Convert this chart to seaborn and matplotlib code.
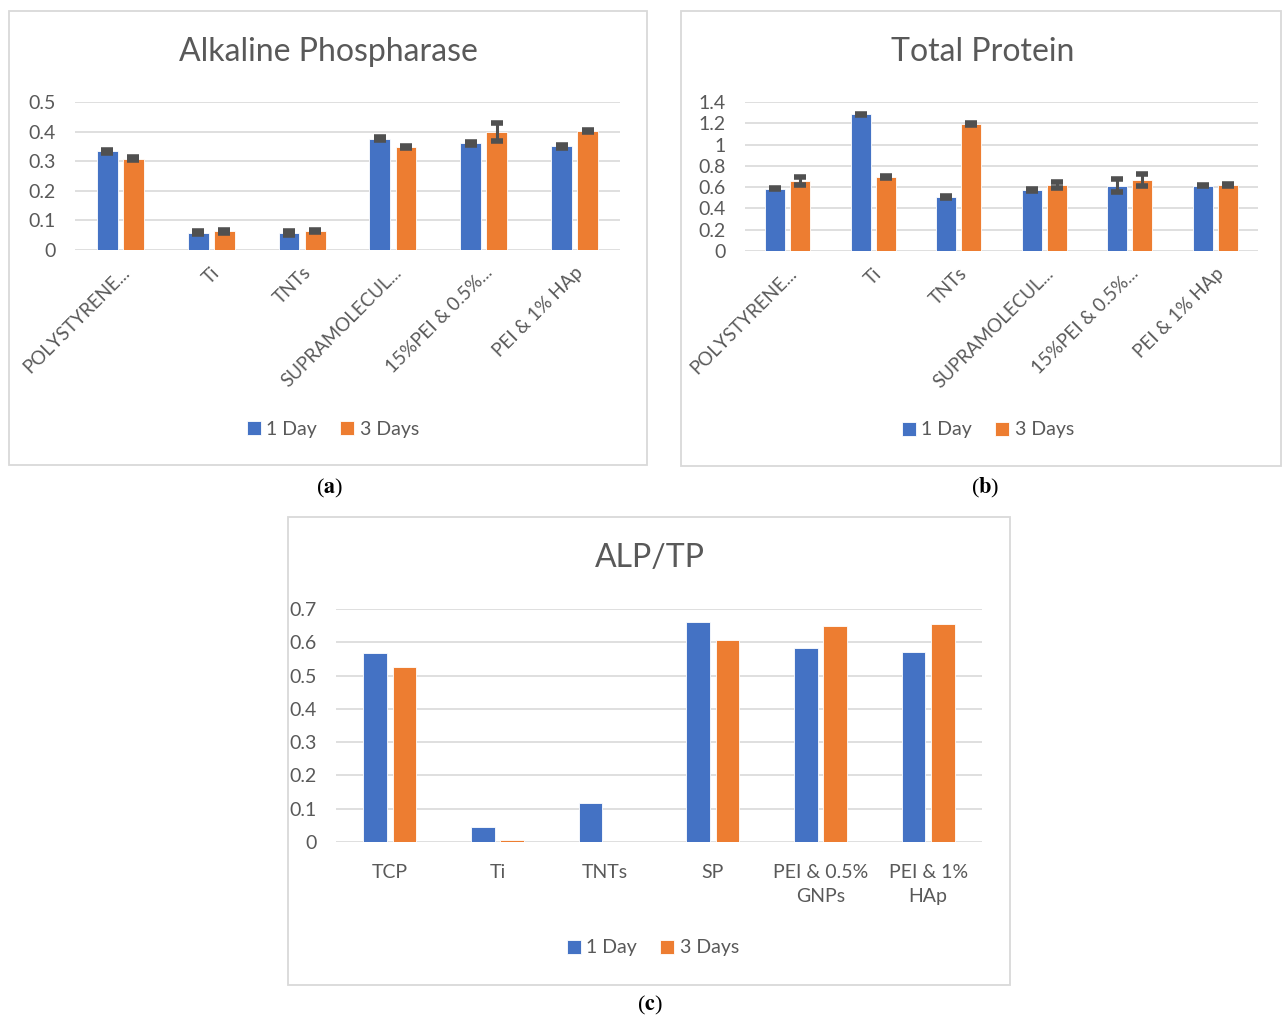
import numpy as np
import pandas as pd
import matplotlib
matplotlib.use('Agg')
import matplotlib.pyplot as plt
import seaborn as sns
from matplotlib.patches import Rectangle
from matplotlib.ticker import FuncFormatter

# ===== Data =====
groups_ab = ['POLYSTYRENE...', 'Ti', 'TNTs', 'SUPRAMOLECUL...',
             '15%PEI & 0.5%...', 'PEI & 1% HAp']
groups_c = ['TCP', 'Ti', 'TNTs', 'SP', 'PEI & 0.5%\nGNPs', 'PEI & 1%\nHAp']
series = ['1 Day', '3 Days']

alp_day1 = [0.333, 0.059, 0.057, 0.376, 0.360, 0.351]
alp_day3 = [0.309, 0.064, 0.065, 0.348, 0.399, 0.402]
alp_err1 = [0.005, 0.006, 0.006, 0.006, 0.005, 0.005]
alp_err3 = [0.006, 0.005, 0.003, 0.003, 0.030, 0.003]

tp_day1 = [0.587, 1.283, 0.505, 0.571, 0.615, 0.615]
tp_day3 = [0.656, 0.697, 1.192, 0.624, 0.669, 0.621]
tp_err1 = [0.008, 0.008, 0.010, 0.008, 0.062, 0.008]
tp_err3 = [0.035, 0.008, 0.008, 0.028, 0.055, 0.010]

ratio_day1 = [0.567, 0.045, 0.116, 0.660, 0.584, 0.572]
ratio_day3 = [0.527, 0.007, 0.0, 0.608, 0.648, 0.655]

BLUE = '#4472C4'
ORANGE = '#ED7D31'
TEXT = '#595959'
GRID = '#d9d9d9'

W, H = 1282, 1019

sns.set_style('white')
plt.rcParams['font.family'] = ['Lato', 'DejaVu Sans']
plt.rcParams['mathtext.fontset'] = 'stix'

fig = plt.figure(figsize=(W / 100, H / 100), dpi=100)


def fx(x):
    return x / W


def fy(y):
    return 1 - y / H


def make_df(groups, d1, d3):
    return pd.DataFrame({
        'group': list(groups) * 2,
        'series': [series[0]] * len(groups) + [series[1]] * len(groups),
        'value': list(d1) + list(d3),
    })


def draw_panel(box, axrect, title, title_xy, groups, d1, d3, ymax, ystep,
               width, legend_xy, letter, caption_xy, rotate, errs=None):
    # outer panel frame
    x0, y0, x1, y1 = box
    fig.patches.append(Rectangle((fx(x0), fy(y1)), fx(x1 - x0), (y1 - y0) / H,
                                 transform=fig.transFigure, fill=False,
                                 edgecolor=GRID, linewidth=1.3))
    l, t, r, b = axrect
    ax = fig.add_axes([fx(l), fy(b), fx(r - l), (b - t) / H])
    df = make_df(groups, d1, d3)
    sns.barplot(data=df, x='group', y='value', hue='series', order=groups,
                hue_order=series, palette=[BLUE, ORANGE], width=width,
                gap=0.2, edgecolor='white', linewidth=0.6, saturation=1,
                ax=ax, legend=True)
    if errs is not None:
        for cont, err in zip(ax.containers, errs):
            xs = [p.get_x() + p.get_width() / 2 for p in cont]
            hs = [p.get_height() for p in cont]
            ax.errorbar(xs, hs, yerr=err, fmt='none', ecolor='#505050',
                        elinewidth=2.2, capsize=4, capthick=4, zorder=5)
    ax.set_ylim(0, ymax)
    ax.set_yticks(np.arange(0, ymax + ystep / 2, ystep))
    ax.yaxis.set_major_formatter(FuncFormatter(lambda v, p: f'{round(v, 2):g}'))
    ax.grid(axis='y', color=GRID, linewidth=1.2)
    ax.set_axisbelow(True)
    for s in ax.spines.values():
        s.set_visible(False)
    ax.set_xlabel('')
    ax.set_ylabel('')
    ax.tick_params(axis='both', length=0, labelsize=14, colors=TEXT)
    ax.tick_params(axis='y', pad=14)
    if rotate:
        ax.set_xticks(range(len(groups)))
        ax.set_xticklabels(groups, rotation=45, ha='right',
                           rotation_mode='anchor', fontsize=13.5)
        ax.tick_params(axis='x', pad=10)
    else:
        ax.tick_params(axis='x', pad=16)
        for lbl in ax.get_xticklabels():
            lbl.set_linespacing(1.45)
    ax.set_xlim(-0.5, len(groups) - 0.5)

    handles, labels = ax.get_legend_handles_labels()
    ax.legend(handles, labels, loc='center', ncol=2, frameon=False,
              bbox_to_anchor=(fx(legend_xy[0]), fy(legend_xy[1])),
              bbox_transform=fig.transFigure, fontsize=14,
              handlelength=0.7, handleheight=0.7, handletextpad=0.3,
              columnspacing=1.2, labelcolor=TEXT)

    fig.text(fx(title_xy[0]), fy(title_xy[1]), title, ha='center',
             va='center', fontsize=23, color=TEXT)
    fig.text(fx(caption_xy[0]), fy(caption_xy[1]),
             '(' + r'$\mathbf{' + letter + '}$' + ')', ha='center',
             va='center', fontsize=16, family='Liberation Serif',
             color='black')
    return ax


draw_panel((9, 11, 647, 465), (75, 102, 620, 250), 'Alkaline Phospharase',
           (328, 52), groups_ab, alp_day1, alp_day3, 0.5, 0.1, 0.573,
           (333, 429), 'a', (330, 488), True, errs=[alp_err1, alp_err3])

draw_panel((681, 11, 1281, 466), (745, 102, 1258, 251), 'Total Protein',
           (983, 52), groups_ab, tp_day1, tp_day3, 1.4, 0.2, 0.585,
           (988, 430), 'b', (985, 488), True, errs=[tp_err1, tp_err3])

draw_panel((288, 517, 1010, 985), (336, 609, 982, 842), 'ALP/TP',
           (650, 558), groups_c, ratio_day1, ratio_day3, 0.7, 0.1, 0.548,
           (653, 948), 'c', (650, 1005), False)

fig.savefig('out.png', dpi=100, facecolor='white')
